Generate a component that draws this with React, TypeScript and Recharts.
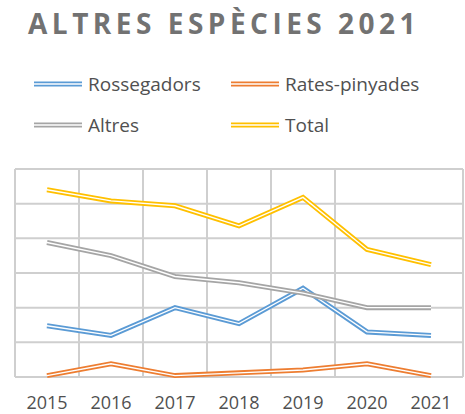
import { LineChart, Line, XAxis, YAxis, CartesianGrid } from "recharts"

const years = [2015, 2016, 2017, 2018, 2019, 2020, 2021]
const rossegadors = [74, 60, 100, 77, 128, 65, 60]
const ratesPinyades = [2, 19, 2, 6, 10, 19, 2]
const altres = [194, 175, 145, 136, 121, 100, 100]
const total = [270, 254, 247, 218, 259, 184, 162]

const seriesNames = ["Rossegadors", "Rates-pinyades", "Altres", "Total"]
const seriesKeys = ["rossegadors", "ratesPinyades", "altres", "total"]
const seriesColors = ["#5B9BD5", "#ED7D31", "#A5A5A5", "#FFC000"]

const yTicks = [0, 50, 100, 150, 200, 250, 300]
// band edges between years, used only for the vertical grid
const gridTicks = [2014.5, 2015.5, 2016.5, 2017.5, 2018.5, 2019.5, 2020.5, 2021.5]

const data = years.map((year, i) => ({
  year,
  rossegadors: rossegadors[i],
  ratesPinyades: ratesPinyades[i],
  altres: altres[i],
  total: total[i],
}))

const font = "'Open Sans', 'Liberation Sans', sans-serif"

function DoubleLineIcon({ color }: { color: string }) {
  return (
    <svg width={48} height={8} style={{ display: "block" }}>
      <line x1={0} y1={4} x2={48} y2={4} stroke={color} strokeWidth={5} />
      <line x1={0} y1={4} x2={48} y2={4} stroke="#fff" strokeWidth={1.4} />
    </svg>
  )
}

export default function App() {
  return (
    <div style={{ position: "absolute", left: 0, top: 0, width: 465, height: 414, background: "#fff", fontFamily: font }}>
      <div
        style={{
          position: "absolute",
          left: 28,
          top: 4,
          fontSize: 28,
          fontWeight: 700,
          letterSpacing: 4.5,
          color: "#727272",
          whiteSpace: "nowrap",
        }}
      >
        ALTRES ESPÈCIES 2021
      </div>

      {seriesNames.map((name, i) => (
        <div
          key={name}
          style={{
            position: "absolute",
            left: 34 + (i % 2) * 197,
            top: 71 + Math.floor(i / 2) * 41,
            display: "flex",
            alignItems: "center",
            fontSize: 19,
            lineHeight: "26px",
            color: "#505050",
            whiteSpace: "nowrap",
          }}
        >
          <DoubleLineIcon color={seriesColors[i]} />
          <span style={{ marginLeft: 6 }}>{name}</span>
        </div>
      ))}

      <div style={{ position: "absolute", left: 0, top: 0 }}>
        <LineChart width={465} height={414} data={data} margin={{ top: 169, right: 2, bottom: 0, left: 15 }}>
          <CartesianGrid xAxisId="grid" stroke="#cfcfcf" strokeWidth={2} />
          <XAxis
            dataKey="year"
            type="number"
            domain={[2014.5, 2021.5]}
            ticks={years}
            interval={0}
            axisLine={false}
            tickLine={false}
            tickMargin={13}
            height={37}
            tick={{ fill: "#505050", fontSize: 18, fontFamily: font }}
          />
          <XAxis xAxisId="grid" dataKey="year" type="number" domain={[2014.5, 2021.5]} ticks={gridTicks} hide />
          <YAxis hide domain={[0, 300]} ticks={yTicks} />
          {seriesKeys.flatMap((key, i) => [
            <Line
              key={key + "-c"}
              dataKey={key}
              stroke={seriesColors[i]}
              strokeWidth={5}
              dot={false}
              isAnimationActive={false}
            />,
            <Line
              key={key + "-w"}
              dataKey={key}
              stroke="#ffffff"
              strokeWidth={1.4}
              dot={false}
              legendType="none"
              isAnimationActive={false}
            />,
          ])}
        </LineChart>
      </div>
    </div>
  )
}
